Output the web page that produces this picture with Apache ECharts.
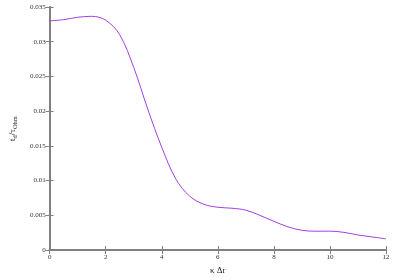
<!DOCTYPE html>
<html><head><meta charset="utf-8">
<script src="https://cdn.jsdelivr.net/npm/echarts@6/dist/echarts.min.js"></script>
<style>html,body{margin:0;padding:0;background:#fff}#c{width:400px;height:280px}</style>
</head><body><div id="c"></div>
<script>
var xValues = [0, 0.5, 1.0, 1.5, 2.0, 2.5, 3.0, 3.5, 4.0, 4.5, 5.0, 5.5, 6.0, 6.5, 7.0, 7.5, 8.0, 8.5, 9.0, 9.5, 10.0, 10.5, 11.0, 11.5, 12.0];
var yValues = [0.0330, 0.03318, 0.03352, 0.03366, 0.03310, 0.03100, 0.02630, 0.02030, 0.01480, 0.01025, 0.00775, 0.00660, 0.00617, 0.00603, 0.00575, 0.00500, 0.00415, 0.00335, 0.00285, 0.00272, 0.00273, 0.00255, 0.00218, 0.00190, 0.00162];
var xTicks = ['0','2','4','6','8','10','12'];
var yTicks = ['0','0.005','0.01','0.015','0.02','0.025','0.03','0.035'];

var data = xValues.map(function(x,i){return [x, yValues[i]];});
var font = 'Liberation Serif';
var chart = echarts.init(document.getElementById('c'), null, {renderer:'canvas'});
chart.setOption({
  animation:false,
  grid:{left:47, right:14, top:7, bottom:25, containLabel:false},
  xAxis:[{
    type:'value', min:0, max:12, interval:2, position:'bottom',
    name:'κ Δr', nameLocation:'middle', nameGap:14,
    nameTextStyle:{fontFamily:font, fontSize:9, color:'#222'},
    axisLine:{lineStyle:{color:'#808080', width:2}},
    axisTick:{inside:true, length:4, lineStyle:{color:'#808080'}},
    axisLabel:{fontFamily:font, fontSize:7, color:'#333', margin:4,
      formatter:function(v){return xTicks[Math.round(v/2)];}},
    splitLine:{show:false}
  },{
    type:'value', min:0, max:12, interval:2, position:'top',
    axisLine:{lineStyle:{color:'#808080', width:2}},
    axisTick:{inside:true, length:4, lineStyle:{color:'#808080'}},
    axisLabel:{show:false}, splitLine:{show:false}
  }],
  yAxis:[{
    type:'value', min:0, max:0.035, interval:0.005, position:'left',
    name:'{m|t}{s|d}{m|/τ}{s|Ohm}', nameLocation:'middle', nameGap:30, nameRotate:90,
    nameTextStyle:{fontFamily:font, fontSize:9, color:'#222',
      rich:{m:{fontFamily:font, fontSize:9, lineHeight:13, verticalAlign:'middle', color:'#222'},
            s:{fontFamily:font, fontSize:6.5, lineHeight:13, verticalAlign:'bottom', color:'#222'}}},
    axisLine:{lineStyle:{color:'#000', width:1.5}},
    axisTick:{inside:true, length:4, lineStyle:{color:'#808080'}},
    axisLabel:{fontFamily:font, fontSize:7, color:'#333', margin:4,
      formatter:function(v){return yTicks[Math.round(v/0.005)];}},
    splitLine:{show:false}
  },{
    type:'value', min:0, max:0.035, interval:0.005, position:'right',
    axisLine:{show:true, lineStyle:{color:'#808080', width:2}},
    axisTick:{show:true, inside:true, length:4, lineStyle:{color:'#808080'}},
    axisLabel:{show:false}, splitLine:{show:false}
  }],
  series:[{
    type:'line', data:data, smooth:0.35, showSymbol:false, symbol:'none',
    lineStyle:{color:'#a040e0', width:1}
  }]
});
</script></body></html>
